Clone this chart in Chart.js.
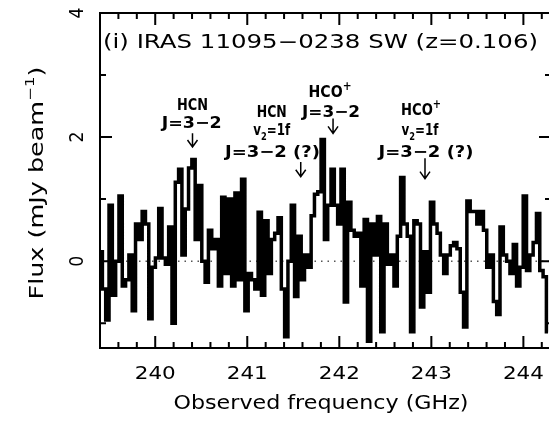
<!DOCTYPE html>
<html>
<head>
<meta charset="utf-8">
<script src="https://cdn.jsdelivr.net/npm/chart.js@4.4.1/dist/chart.umd.min.js"></script>
<style>
  html, body { margin: 0; padding: 0; background: #fff; overflow: hidden; }
  #wrap { width: 549px; height: 421px; overflow: hidden; }
</style>
</head>
<body>
<div id="wrap"><canvas id="spectrum" width="553" height="421"></canvas></div>
<script>
// Spectrum channels: centre of first channel and channel width (GHz)
const CHAN_START = 239.408;
const CHAN_WIDTH = 0.036;

// Flux per channel (mJy/beam)
const flux = [
   0.15, -0.45, -0.95,  0.90, -0.55,  0.00,  1.05, -0.40, -0.30,  0.10,
  -0.80,  0.60,  0.35,  0.80,  0.60, -0.93, -0.10,  0.05,  0.85,  0.05,
  -0.05,  0.55, -1.00,  1.27,  1.48,  0.10,  0.84,  1.50,  1.64,  0.35,
   1.22,  0.00, -0.34,  0.50,  0.20,  0.35, -0.40,  1.03, -0.20,  1.00,
  -0.40,  1.10, -0.30,  1.32, -0.80, -0.20, -0.30, -0.45,  0.79, -0.55,
   0.65, -0.20,  0.35,  0.45,  0.70, -0.45, -1.22,  0.00,  0.90, -0.57,
   0.40, -0.30,  0.10, -0.10,  0.73,  1.08,  1.12,  1.96,  0.35,  0.90,
   1.48,  0.90,  0.60,  1.48, -0.66,  0.95,  0.50,  0.40,  0.45, -0.40,
   0.67, -1.29,  0.60,  0.10,  0.72, -1.14,  0.60, -0.05,  0.10, -0.40,
   0.40,  1.35,  0.60,  0.40, -1.14,  0.65,  0.60, -0.74,  0.15, -0.50,
   0.95,  0.60,  0.45,  0.10, -0.20,  0.10,  0.25,  0.30,  0.20, -0.50,
  -1.06,  0.97,  0.80,  0.80,  0.60,  0.80,  0.50, -0.10,  0.10, -0.65,
  -0.86,  0.55,  0.10,  0.00, -0.20,  0.27, -0.40, -0.10,  1.05, -0.15,
   0.10,  0.30,  0.77, -0.15, -0.25, -1.14
];

const xMajorTicks = [240, 241, 242, 243, 244];
const xMinorTicks = [239.4, 239.6, 239.8, 240.2, 240.4, 240.6, 240.8, 241.2, 241.4, 241.6, 241.8,
                     242.2, 242.4, 242.6, 242.8, 243.2, 243.4, 243.6, 243.8, 244.2];
const yMajorTicks = [0, 2, 4];
const yMinorTicks = [-1, 1, 3];

// text pieces: [string, relative size, vertical shift in em (negative = up)]
const titleText = [['(i) IRAS 11095\u22120238 SW (z=0.106)', 1, 0]];
const xTitleText = [['Observed frequency (GHz)', 1, 0]];
const yTitleText = [['Flux (mJy beam', 1, 0], ['\u22121', 0.65, -0.45], [')', 1, 0]];

// Line identifications: arrow frequency and the flux range the arrow spans
const lineFreqs = [240.405, 241.581, 241.932, 242.931];
const arrowTails = [2.06, 1.60, 2.30, 1.66];
const arrowTips  = [1.84, 1.36, 2.06, 1.33];

const HCN = [['HCN', 1, 0]];
const HCOP = [['HCO', 1, 0], ['+', 0.75, -0.45]];
const J32 = [['J=3\u22122', 1, 0]];
const J32Q = [['J=3\u22122 (?)', 1, 0]];
const V2 = [['v', 1, 0], ['2', 0.7, 0.3], ['=1f', 1, 0]];

// label pieces with [freq, flux baseline]
const lineLabels = [
  [HCN, 240.405, 2.435], [J32, 240.396, 2.14],
  [HCN, 241.266, 2.318], [V2, 241.266, 2.03], [J32Q, 241.274, 1.68],
  [HCOP, 241.899, 2.65], [J32, 241.910, 2.33],
  [HCOP, 242.888, 2.355], [V2, 242.877, 2.03], [J32Q, 242.942, 1.68]
];
// pixel widths the labels are stretched to (PGPLOT font is wider than DejaVu)
const labelWidths = [31, 60, 30, 37, 95, 43, 58, 40, 37, 95];

const FONT = '"DejaVu Sans", "Liberation Sans", sans-serif';

// Draw a run of text pieces centred on x, baseline y, stretched to a width
function fitText(ctx, pieces, x, y, width, size, weight, angle) {
  ctx.save();
  const fontOf = p => `${weight} ${size * p[1]}px ${FONT}`;
  let total = 0;
  const widths = pieces.map(p => {
    ctx.font = fontOf(p);
    const w = ctx.measureText(p[0]).width;
    total += w;
    return w;
  });
  ctx.translate(x, y);
  if (angle) ctx.rotate(angle);
  ctx.scale(width / total, 1);
  ctx.textAlign = 'left';
  ctx.textBaseline = 'alphabetic';
  ctx.fillStyle = '#000';
  let cx = -total / 2;
  pieces.forEach((p, i) => {
    ctx.font = fontOf(p);
    ctx.fillText(p[0], cx, p[2] * size);
    cx += widths[i];
  });
  ctx.restore();
}

const pgplotAxes = {
  id: 'pgplotAxes',
  beforeDatasetsDraw(chart) {
    const { ctx, chartArea: a, scales: { y } } = chart;
    // dotted zero level
    const y0 = y.getPixelForValue(0);
    ctx.save();
    ctx.strokeStyle = '#555';
    ctx.lineWidth = 1.5;
    ctx.setLineDash([1.5, 5]);
    ctx.beginPath();
    ctx.moveTo(a.left, y0);
    ctx.lineTo(a.right, y0);
    ctx.stroke();
    ctx.restore();
  },
  afterDatasetsDraw(chart) {
    const { ctx, chartArea: a, scales: { x, y } } = chart;
    ctx.save();
    ctx.strokeStyle = '#000';
    ctx.lineWidth = 2;
    ctx.strokeRect(a.left, a.top, a.right - a.left, a.bottom - a.top);

    // inward ticks on all four sides
    ctx.beginPath();
    const tickX = (v, len) => {
      const px = x.getPixelForValue(v);
      ctx.moveTo(px, a.bottom); ctx.lineTo(px, a.bottom - len);
      ctx.moveTo(px, a.top); ctx.lineTo(px, a.top + len);
    };
    const tickY = (v, len) => {
      const py = y.getPixelForValue(v);
      ctx.moveTo(a.left, py); ctx.lineTo(a.left + len, py);
      ctx.moveTo(a.right, py); ctx.lineTo(a.right - len, py);
    };
    xMajorTicks.forEach(v => tickX(v, 12));
    xMinorTicks.forEach(v => tickX(v, 6));
    yMajorTicks.forEach(v => tickY(v, 12));
    yMinorTicks.forEach(v => tickY(v, 6));
    ctx.stroke();

    // tick labels
    xMajorTicks.forEach(v => {
      fitText(ctx, [[String(v), 1, 0]], x.getPixelForValue(v), 378.5, 41, 18, 'normal');
    });
    yMajorTicks.forEach(v => {
      fitText(ctx, [[String(v), 1, 0]], 83, y.getPixelForValue(v), 11, 19, 'normal', -Math.PI / 2);
    });

    // axis titles and panel title
    fitText(ctx, xTitleText, 321, 408.5, 295, 19, 'normal');
    fitText(ctx, yTitleText, 43, 183, 233, 19, 'normal', -Math.PI / 2);
    fitText(ctx, titleText, 320.5, 47.5, 435, 19, 'normal');

    // line identifications
    lineLabels.forEach((lab, i) => {
      fitText(ctx, lab[0], x.getPixelForValue(lab[1]), y.getPixelForValue(lab[2]),
              labelWidths[i], 16, 'bold');
    });
    ctx.lineWidth = 1.5;
    ctx.beginPath();
    lineFreqs.forEach((f, i) => {
      const px = x.getPixelForValue(f);
      const top = y.getPixelForValue(arrowTails[i]);
      const tip = y.getPixelForValue(arrowTips[i]);
      ctx.moveTo(px, top); ctx.lineTo(px, tip);
      ctx.moveTo(px - 5, tip - 7); ctx.lineTo(px, tip); ctx.lineTo(px + 5, tip - 7);
    });
    ctx.stroke();
    ctx.restore();
  }
};

new Chart(document.getElementById('spectrum'), {
  type: 'line',
  data: {
    datasets: [{
      data: flux.map((v, i) => ({ x: CHAN_START + i * CHAN_WIDTH, y: v })),
      borderColor: '#000',
      borderWidth: 3.5,
      pointRadius: 0,
      stepped: 'middle',
      fill: false
    }]
  },
  options: {
    responsive: false,
    animation: false,
    devicePixelRatio: 1,
    layout: { padding: { left: 100, right: 2, top: 13, bottom: 73 } },
    plugins: { legend: { display: false }, tooltip: { enabled: false } },
    scales: {
      x: { type: 'linear', min: 239.40, max: 244.30, display: false },
      y: { type: 'linear', min: -1.4, max: 4, display: false }
    }
  },
  plugins: [pgplotAxes]
});
</script>
</body>
</html>
